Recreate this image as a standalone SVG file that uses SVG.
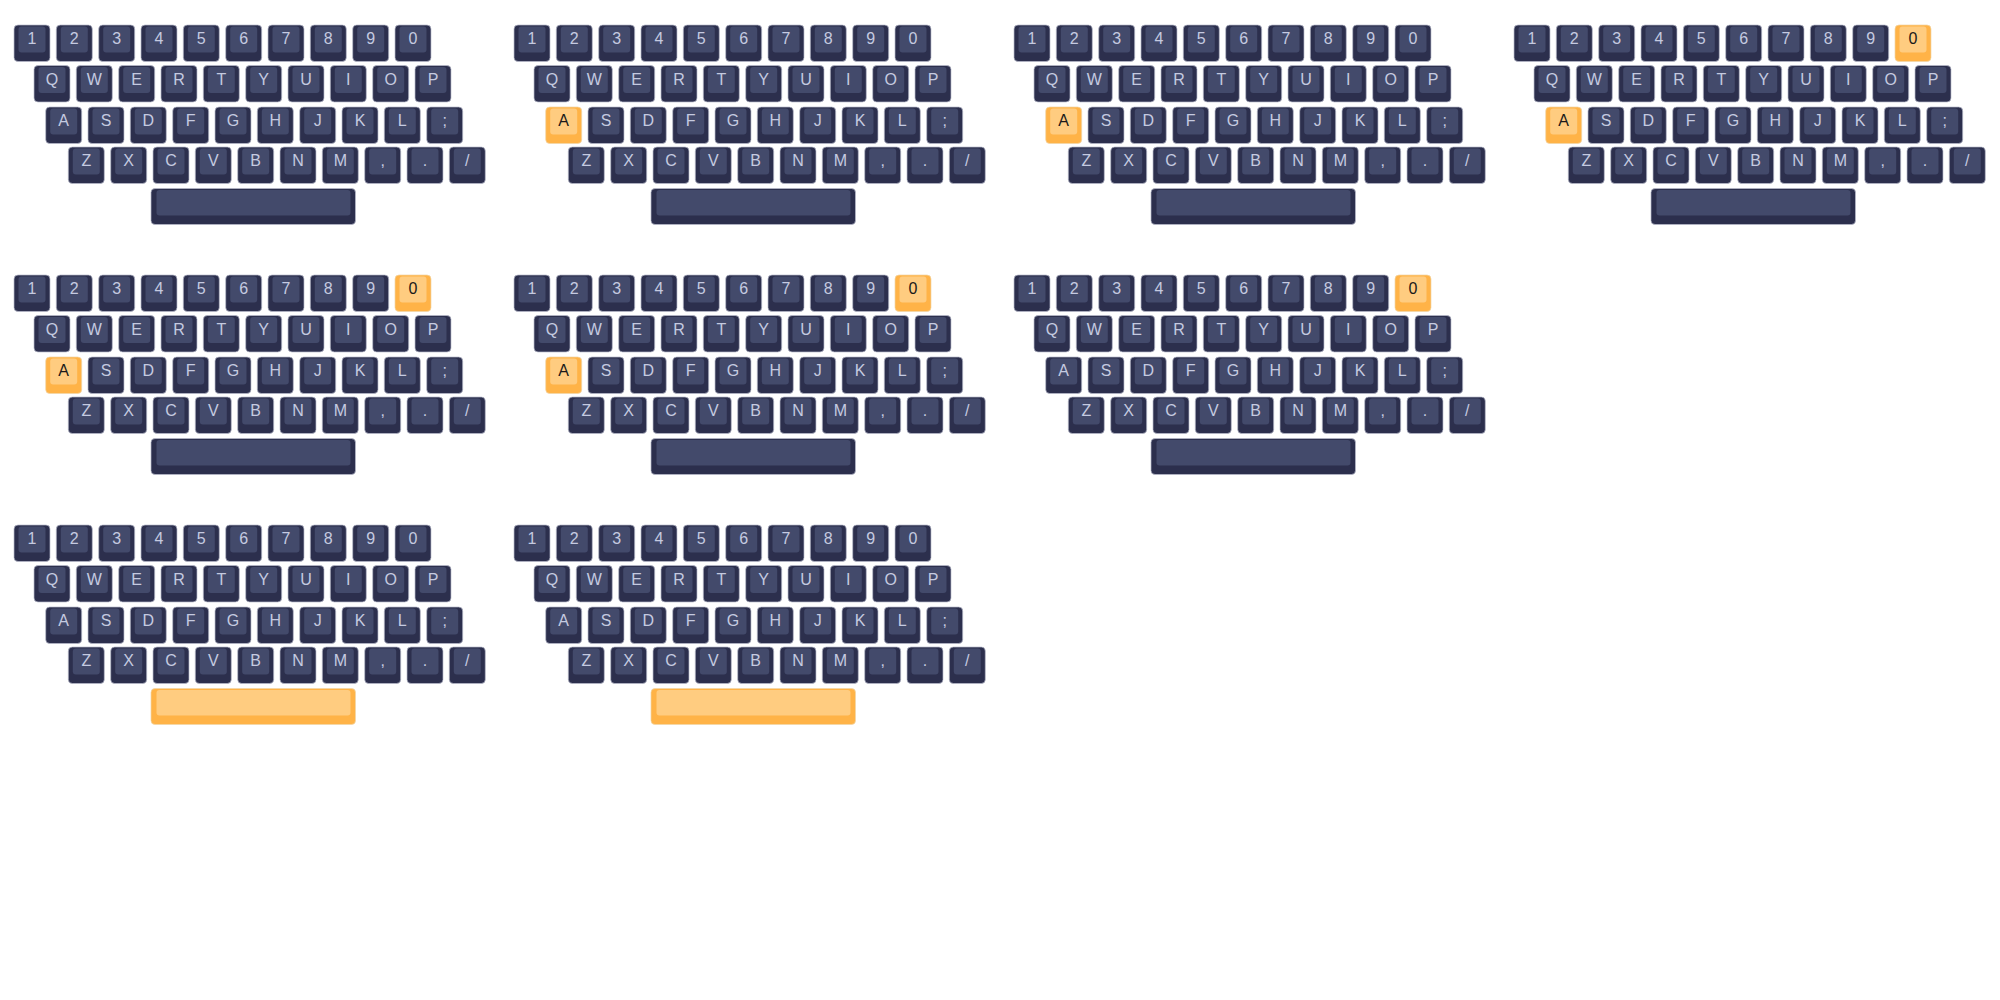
<svg xmlns="http://www.w3.org/2000/svg" xmlns:xlink="http://www.w3.org/1999/xlink" width="2000" height="1000" viewBox="0 0 2000 1000">
<style>
.o{fill:#2c2f4d;stroke:#b9bccb;stroke-width:0.7}
.f{fill:#434a6b}
.ho{fill:#ffb347;stroke:#f0d6a8;stroke-width:0.7}
.hf{fill:#ffcc80}
text{font-family:"Liberation Sans",Arial,sans-serif;font-size:16px;text-anchor:middle;fill:#c5cae0}
text.t{fill:#1a1a1a}
</style>
<defs>
<g id="d"><rect class="o" width="36" height="36.5" rx="4"/><rect class="f" x="4.5" y="1.5" width="27" height="26" rx="3"/></g>
<g id="h"><rect class="ho" width="36" height="36.5" rx="4"/><rect class="hf" x="4.5" y="1.5" width="27" height="26" rx="3"/></g>
<g id="s"><rect class="o" width="204.5" height="36" rx="4"/><rect class="f" x="5.5" y="1.5" width="194" height="25.5" rx="3"/></g>
<g id="sh"><rect class="ho" width="204.5" height="36" rx="4"/><rect class="hf" x="5.5" y="1.5" width="194" height="25.5" rx="3"/></g>
</defs>
<rect width="2000" height="1000" fill="#ffffff"/>
<g id="connectors"></g>

<g id="kb1" transform="translate(0,0)">
<use href="#d" x="14" y="25"/><text x="32" y="44">1</text>
<use href="#d" x="56.3" y="25"/><text x="74.3" y="44">2</text>
<use href="#d" x="98.7" y="25"/><text x="116.7" y="44">3</text>
<use href="#d" x="141" y="25"/><text x="159" y="44">4</text>
<use href="#d" x="183.3" y="25"/><text x="201.3" y="44">5</text>
<use href="#d" x="225.7" y="25"/><text x="243.7" y="44">6</text>
<use href="#d" x="268" y="25"/><text x="286" y="44">7</text>
<use href="#d" x="310.3" y="25"/><text x="328.3" y="44">8</text>
<use href="#d" x="352.7" y="25"/><text x="370.7" y="44">9</text>
<use href="#d" x="395" y="25"/><text x="413" y="44">0</text>
<use href="#d" x="34" y="65.5"/><text x="52" y="84.5">Q</text>
<use href="#d" x="76.3" y="65.5"/><text x="94.3" y="84.5">W</text>
<use href="#d" x="118.7" y="65.5"/><text x="136.7" y="84.5">E</text>
<use href="#d" x="161" y="65.5"/><text x="179" y="84.5">R</text>
<use href="#d" x="203.3" y="65.5"/><text x="221.3" y="84.5">T</text>
<use href="#d" x="245.7" y="65.5"/><text x="263.7" y="84.5">Y</text>
<use href="#d" x="288" y="65.5"/><text x="306" y="84.5">U</text>
<use href="#d" x="330.3" y="65.5"/><text x="348.3" y="84.5">I</text>
<use href="#d" x="372.7" y="65.5"/><text x="390.7" y="84.5">O</text>
<use href="#d" x="415" y="65.5"/><text x="433" y="84.5">P</text>
<use href="#d" x="45.7" y="107"/><text x="63.7" y="126">A</text>
<use href="#d" x="88" y="107"/><text x="106" y="126">S</text>
<use href="#d" x="130.3" y="107"/><text x="148.3" y="126">D</text>
<use href="#d" x="172.7" y="107"/><text x="190.7" y="126">F</text>
<use href="#d" x="215" y="107"/><text x="233" y="126">G</text>
<use href="#d" x="257.3" y="107"/><text x="275.3" y="126">H</text>
<use href="#d" x="299.7" y="107"/><text x="317.7" y="126">J</text>
<use href="#d" x="342" y="107"/><text x="360" y="126">K</text>
<use href="#d" x="384.3" y="107"/><text x="402.3" y="126">L</text>
<use href="#d" x="426.7" y="107"/><text x="444.7" y="126">;</text>
<use href="#d" x="68.3" y="147"/><text x="86.3" y="166">Z</text>
<use href="#d" x="110.7" y="147"/><text x="128.7" y="166">X</text>
<use href="#d" x="153" y="147"/><text x="171" y="166">C</text>
<use href="#d" x="195.3" y="147"/><text x="213.3" y="166">V</text>
<use href="#d" x="237.7" y="147"/><text x="255.7" y="166">B</text>
<use href="#d" x="280" y="147"/><text x="298" y="166">N</text>
<use href="#d" x="322.3" y="147"/><text x="340.3" y="166">M</text>
<use href="#d" x="364.7" y="147"/><text x="382.7" y="166">,</text>
<use href="#d" x="407" y="147"/><text x="425" y="166">.</text>
<use href="#d" x="449.3" y="147"/><text x="467.3" y="166">/</text>
<use href="#s" x="151" y="188.5"/>
</g>

<g id="kb2" transform="translate(500,0)">
<use href="#d" x="14" y="25"/><text x="32" y="44">1</text>
<use href="#d" x="56.3" y="25"/><text x="74.3" y="44">2</text>
<use href="#d" x="98.7" y="25"/><text x="116.7" y="44">3</text>
<use href="#d" x="141" y="25"/><text x="159" y="44">4</text>
<use href="#d" x="183.3" y="25"/><text x="201.3" y="44">5</text>
<use href="#d" x="225.7" y="25"/><text x="243.7" y="44">6</text>
<use href="#d" x="268" y="25"/><text x="286" y="44">7</text>
<use href="#d" x="310.3" y="25"/><text x="328.3" y="44">8</text>
<use href="#d" x="352.7" y="25"/><text x="370.7" y="44">9</text>
<use href="#d" x="395" y="25"/><text x="413" y="44">0</text>
<use href="#d" x="34" y="65.5"/><text x="52" y="84.5">Q</text>
<use href="#d" x="76.3" y="65.5"/><text x="94.3" y="84.5">W</text>
<use href="#d" x="118.7" y="65.5"/><text x="136.7" y="84.5">E</text>
<use href="#d" x="161" y="65.5"/><text x="179" y="84.5">R</text>
<use href="#d" x="203.3" y="65.5"/><text x="221.3" y="84.5">T</text>
<use href="#d" x="245.7" y="65.5"/><text x="263.7" y="84.5">Y</text>
<use href="#d" x="288" y="65.5"/><text x="306" y="84.5">U</text>
<use href="#d" x="330.3" y="65.5"/><text x="348.3" y="84.5">I</text>
<use href="#d" x="372.7" y="65.5"/><text x="390.7" y="84.5">O</text>
<use href="#d" x="415" y="65.5"/><text x="433" y="84.5">P</text>
<use href="#h" x="45.7" y="107"/><text class="t" x="63.7" y="126">A</text>
<use href="#d" x="88" y="107"/><text x="106" y="126">S</text>
<use href="#d" x="130.3" y="107"/><text x="148.3" y="126">D</text>
<use href="#d" x="172.7" y="107"/><text x="190.7" y="126">F</text>
<use href="#d" x="215" y="107"/><text x="233" y="126">G</text>
<use href="#d" x="257.3" y="107"/><text x="275.3" y="126">H</text>
<use href="#d" x="299.7" y="107"/><text x="317.7" y="126">J</text>
<use href="#d" x="342" y="107"/><text x="360" y="126">K</text>
<use href="#d" x="384.3" y="107"/><text x="402.3" y="126">L</text>
<use href="#d" x="426.7" y="107"/><text x="444.7" y="126">;</text>
<use href="#d" x="68.3" y="147"/><text x="86.3" y="166">Z</text>
<use href="#d" x="110.7" y="147"/><text x="128.7" y="166">X</text>
<use href="#d" x="153" y="147"/><text x="171" y="166">C</text>
<use href="#d" x="195.3" y="147"/><text x="213.3" y="166">V</text>
<use href="#d" x="237.7" y="147"/><text x="255.7" y="166">B</text>
<use href="#d" x="280" y="147"/><text x="298" y="166">N</text>
<use href="#d" x="322.3" y="147"/><text x="340.3" y="166">M</text>
<use href="#d" x="364.7" y="147"/><text x="382.7" y="166">,</text>
<use href="#d" x="407" y="147"/><text x="425" y="166">.</text>
<use href="#d" x="449.3" y="147"/><text x="467.3" y="166">/</text>
<use href="#s" x="151" y="188.5"/>
</g>

<g id="kb3" transform="translate(1000,0)">
<use href="#d" x="14" y="25"/><text x="32" y="44">1</text>
<use href="#d" x="56.3" y="25"/><text x="74.3" y="44">2</text>
<use href="#d" x="98.7" y="25"/><text x="116.7" y="44">3</text>
<use href="#d" x="141" y="25"/><text x="159" y="44">4</text>
<use href="#d" x="183.3" y="25"/><text x="201.3" y="44">5</text>
<use href="#d" x="225.7" y="25"/><text x="243.7" y="44">6</text>
<use href="#d" x="268" y="25"/><text x="286" y="44">7</text>
<use href="#d" x="310.3" y="25"/><text x="328.3" y="44">8</text>
<use href="#d" x="352.7" y="25"/><text x="370.7" y="44">9</text>
<use href="#d" x="395" y="25"/><text x="413" y="44">0</text>
<use href="#d" x="34" y="65.5"/><text x="52" y="84.5">Q</text>
<use href="#d" x="76.3" y="65.5"/><text x="94.3" y="84.5">W</text>
<use href="#d" x="118.7" y="65.5"/><text x="136.7" y="84.5">E</text>
<use href="#d" x="161" y="65.5"/><text x="179" y="84.5">R</text>
<use href="#d" x="203.3" y="65.5"/><text x="221.3" y="84.5">T</text>
<use href="#d" x="245.7" y="65.5"/><text x="263.7" y="84.5">Y</text>
<use href="#d" x="288" y="65.5"/><text x="306" y="84.5">U</text>
<use href="#d" x="330.3" y="65.5"/><text x="348.3" y="84.5">I</text>
<use href="#d" x="372.7" y="65.5"/><text x="390.7" y="84.5">O</text>
<use href="#d" x="415" y="65.5"/><text x="433" y="84.5">P</text>
<use href="#h" x="45.7" y="107"/><text class="t" x="63.7" y="126">A</text>
<use href="#d" x="88" y="107"/><text x="106" y="126">S</text>
<use href="#d" x="130.3" y="107"/><text x="148.3" y="126">D</text>
<use href="#d" x="172.7" y="107"/><text x="190.7" y="126">F</text>
<use href="#d" x="215" y="107"/><text x="233" y="126">G</text>
<use href="#d" x="257.3" y="107"/><text x="275.3" y="126">H</text>
<use href="#d" x="299.7" y="107"/><text x="317.7" y="126">J</text>
<use href="#d" x="342" y="107"/><text x="360" y="126">K</text>
<use href="#d" x="384.3" y="107"/><text x="402.3" y="126">L</text>
<use href="#d" x="426.7" y="107"/><text x="444.7" y="126">;</text>
<use href="#d" x="68.3" y="147"/><text x="86.3" y="166">Z</text>
<use href="#d" x="110.7" y="147"/><text x="128.7" y="166">X</text>
<use href="#d" x="153" y="147"/><text x="171" y="166">C</text>
<use href="#d" x="195.3" y="147"/><text x="213.3" y="166">V</text>
<use href="#d" x="237.7" y="147"/><text x="255.7" y="166">B</text>
<use href="#d" x="280" y="147"/><text x="298" y="166">N</text>
<use href="#d" x="322.3" y="147"/><text x="340.3" y="166">M</text>
<use href="#d" x="364.7" y="147"/><text x="382.7" y="166">,</text>
<use href="#d" x="407" y="147"/><text x="425" y="166">.</text>
<use href="#d" x="449.3" y="147"/><text x="467.3" y="166">/</text>
<use href="#s" x="151" y="188.5"/>
</g>

<g id="kb4" transform="translate(1500,0)">
<use href="#d" x="14" y="25"/><text x="32" y="44">1</text>
<use href="#d" x="56.3" y="25"/><text x="74.3" y="44">2</text>
<use href="#d" x="98.7" y="25"/><text x="116.7" y="44">3</text>
<use href="#d" x="141" y="25"/><text x="159" y="44">4</text>
<use href="#d" x="183.3" y="25"/><text x="201.3" y="44">5</text>
<use href="#d" x="225.7" y="25"/><text x="243.7" y="44">6</text>
<use href="#d" x="268" y="25"/><text x="286" y="44">7</text>
<use href="#d" x="310.3" y="25"/><text x="328.3" y="44">8</text>
<use href="#d" x="352.7" y="25"/><text x="370.7" y="44">9</text>
<use href="#h" x="395" y="25"/><text class="t" x="413" y="44">0</text>
<use href="#d" x="34" y="65.5"/><text x="52" y="84.5">Q</text>
<use href="#d" x="76.3" y="65.5"/><text x="94.3" y="84.5">W</text>
<use href="#d" x="118.7" y="65.5"/><text x="136.7" y="84.5">E</text>
<use href="#d" x="161" y="65.5"/><text x="179" y="84.5">R</text>
<use href="#d" x="203.3" y="65.5"/><text x="221.3" y="84.5">T</text>
<use href="#d" x="245.7" y="65.5"/><text x="263.7" y="84.5">Y</text>
<use href="#d" x="288" y="65.5"/><text x="306" y="84.5">U</text>
<use href="#d" x="330.3" y="65.5"/><text x="348.3" y="84.5">I</text>
<use href="#d" x="372.7" y="65.5"/><text x="390.7" y="84.5">O</text>
<use href="#d" x="415" y="65.5"/><text x="433" y="84.5">P</text>
<use href="#h" x="45.7" y="107"/><text class="t" x="63.7" y="126">A</text>
<use href="#d" x="88" y="107"/><text x="106" y="126">S</text>
<use href="#d" x="130.3" y="107"/><text x="148.3" y="126">D</text>
<use href="#d" x="172.7" y="107"/><text x="190.7" y="126">F</text>
<use href="#d" x="215" y="107"/><text x="233" y="126">G</text>
<use href="#d" x="257.3" y="107"/><text x="275.3" y="126">H</text>
<use href="#d" x="299.7" y="107"/><text x="317.7" y="126">J</text>
<use href="#d" x="342" y="107"/><text x="360" y="126">K</text>
<use href="#d" x="384.3" y="107"/><text x="402.3" y="126">L</text>
<use href="#d" x="426.7" y="107"/><text x="444.7" y="126">;</text>
<use href="#d" x="68.3" y="147"/><text x="86.3" y="166">Z</text>
<use href="#d" x="110.7" y="147"/><text x="128.7" y="166">X</text>
<use href="#d" x="153" y="147"/><text x="171" y="166">C</text>
<use href="#d" x="195.3" y="147"/><text x="213.3" y="166">V</text>
<use href="#d" x="237.7" y="147"/><text x="255.7" y="166">B</text>
<use href="#d" x="280" y="147"/><text x="298" y="166">N</text>
<use href="#d" x="322.3" y="147"/><text x="340.3" y="166">M</text>
<use href="#d" x="364.7" y="147"/><text x="382.7" y="166">,</text>
<use href="#d" x="407" y="147"/><text x="425" y="166">.</text>
<use href="#d" x="449.3" y="147"/><text x="467.3" y="166">/</text>
<use href="#s" x="151" y="188.5"/>
</g>

<g id="kb5" transform="translate(0,250)">
<use href="#d" x="14" y="25"/><text x="32" y="44">1</text>
<use href="#d" x="56.3" y="25"/><text x="74.3" y="44">2</text>
<use href="#d" x="98.7" y="25"/><text x="116.7" y="44">3</text>
<use href="#d" x="141" y="25"/><text x="159" y="44">4</text>
<use href="#d" x="183.3" y="25"/><text x="201.3" y="44">5</text>
<use href="#d" x="225.7" y="25"/><text x="243.7" y="44">6</text>
<use href="#d" x="268" y="25"/><text x="286" y="44">7</text>
<use href="#d" x="310.3" y="25"/><text x="328.3" y="44">8</text>
<use href="#d" x="352.7" y="25"/><text x="370.7" y="44">9</text>
<use href="#h" x="395" y="25"/><text class="t" x="413" y="44">0</text>
<use href="#d" x="34" y="65.5"/><text x="52" y="84.5">Q</text>
<use href="#d" x="76.3" y="65.5"/><text x="94.3" y="84.5">W</text>
<use href="#d" x="118.7" y="65.5"/><text x="136.7" y="84.5">E</text>
<use href="#d" x="161" y="65.5"/><text x="179" y="84.5">R</text>
<use href="#d" x="203.3" y="65.5"/><text x="221.3" y="84.5">T</text>
<use href="#d" x="245.7" y="65.5"/><text x="263.7" y="84.5">Y</text>
<use href="#d" x="288" y="65.5"/><text x="306" y="84.5">U</text>
<use href="#d" x="330.3" y="65.5"/><text x="348.3" y="84.5">I</text>
<use href="#d" x="372.7" y="65.5"/><text x="390.7" y="84.5">O</text>
<use href="#d" x="415" y="65.5"/><text x="433" y="84.5">P</text>
<use href="#h" x="45.7" y="107"/><text class="t" x="63.7" y="126">A</text>
<use href="#d" x="88" y="107"/><text x="106" y="126">S</text>
<use href="#d" x="130.3" y="107"/><text x="148.3" y="126">D</text>
<use href="#d" x="172.7" y="107"/><text x="190.7" y="126">F</text>
<use href="#d" x="215" y="107"/><text x="233" y="126">G</text>
<use href="#d" x="257.3" y="107"/><text x="275.3" y="126">H</text>
<use href="#d" x="299.7" y="107"/><text x="317.7" y="126">J</text>
<use href="#d" x="342" y="107"/><text x="360" y="126">K</text>
<use href="#d" x="384.3" y="107"/><text x="402.3" y="126">L</text>
<use href="#d" x="426.7" y="107"/><text x="444.7" y="126">;</text>
<use href="#d" x="68.3" y="147"/><text x="86.3" y="166">Z</text>
<use href="#d" x="110.7" y="147"/><text x="128.7" y="166">X</text>
<use href="#d" x="153" y="147"/><text x="171" y="166">C</text>
<use href="#d" x="195.3" y="147"/><text x="213.3" y="166">V</text>
<use href="#d" x="237.7" y="147"/><text x="255.7" y="166">B</text>
<use href="#d" x="280" y="147"/><text x="298" y="166">N</text>
<use href="#d" x="322.3" y="147"/><text x="340.3" y="166">M</text>
<use href="#d" x="364.7" y="147"/><text x="382.7" y="166">,</text>
<use href="#d" x="407" y="147"/><text x="425" y="166">.</text>
<use href="#d" x="449.3" y="147"/><text x="467.3" y="166">/</text>
<use href="#s" x="151" y="188.5"/>
</g>

<g id="kb6" transform="translate(500,250)">
<use href="#d" x="14" y="25"/><text x="32" y="44">1</text>
<use href="#d" x="56.3" y="25"/><text x="74.3" y="44">2</text>
<use href="#d" x="98.7" y="25"/><text x="116.7" y="44">3</text>
<use href="#d" x="141" y="25"/><text x="159" y="44">4</text>
<use href="#d" x="183.3" y="25"/><text x="201.3" y="44">5</text>
<use href="#d" x="225.7" y="25"/><text x="243.7" y="44">6</text>
<use href="#d" x="268" y="25"/><text x="286" y="44">7</text>
<use href="#d" x="310.3" y="25"/><text x="328.3" y="44">8</text>
<use href="#d" x="352.7" y="25"/><text x="370.7" y="44">9</text>
<use href="#h" x="395" y="25"/><text class="t" x="413" y="44">0</text>
<use href="#d" x="34" y="65.5"/><text x="52" y="84.5">Q</text>
<use href="#d" x="76.3" y="65.5"/><text x="94.3" y="84.5">W</text>
<use href="#d" x="118.7" y="65.5"/><text x="136.7" y="84.5">E</text>
<use href="#d" x="161" y="65.5"/><text x="179" y="84.5">R</text>
<use href="#d" x="203.3" y="65.5"/><text x="221.3" y="84.5">T</text>
<use href="#d" x="245.7" y="65.5"/><text x="263.7" y="84.5">Y</text>
<use href="#d" x="288" y="65.5"/><text x="306" y="84.5">U</text>
<use href="#d" x="330.3" y="65.5"/><text x="348.3" y="84.5">I</text>
<use href="#d" x="372.7" y="65.5"/><text x="390.7" y="84.5">O</text>
<use href="#d" x="415" y="65.5"/><text x="433" y="84.5">P</text>
<use href="#h" x="45.7" y="107"/><text class="t" x="63.7" y="126">A</text>
<use href="#d" x="88" y="107"/><text x="106" y="126">S</text>
<use href="#d" x="130.3" y="107"/><text x="148.3" y="126">D</text>
<use href="#d" x="172.7" y="107"/><text x="190.7" y="126">F</text>
<use href="#d" x="215" y="107"/><text x="233" y="126">G</text>
<use href="#d" x="257.3" y="107"/><text x="275.3" y="126">H</text>
<use href="#d" x="299.7" y="107"/><text x="317.7" y="126">J</text>
<use href="#d" x="342" y="107"/><text x="360" y="126">K</text>
<use href="#d" x="384.3" y="107"/><text x="402.3" y="126">L</text>
<use href="#d" x="426.7" y="107"/><text x="444.7" y="126">;</text>
<use href="#d" x="68.3" y="147"/><text x="86.3" y="166">Z</text>
<use href="#d" x="110.7" y="147"/><text x="128.7" y="166">X</text>
<use href="#d" x="153" y="147"/><text x="171" y="166">C</text>
<use href="#d" x="195.3" y="147"/><text x="213.3" y="166">V</text>
<use href="#d" x="237.7" y="147"/><text x="255.7" y="166">B</text>
<use href="#d" x="280" y="147"/><text x="298" y="166">N</text>
<use href="#d" x="322.3" y="147"/><text x="340.3" y="166">M</text>
<use href="#d" x="364.7" y="147"/><text x="382.7" y="166">,</text>
<use href="#d" x="407" y="147"/><text x="425" y="166">.</text>
<use href="#d" x="449.3" y="147"/><text x="467.3" y="166">/</text>
<use href="#s" x="151" y="188.5"/>
</g>

<g id="kb7" transform="translate(1000,250)">
<use href="#d" x="14" y="25"/><text x="32" y="44">1</text>
<use href="#d" x="56.3" y="25"/><text x="74.3" y="44">2</text>
<use href="#d" x="98.7" y="25"/><text x="116.7" y="44">3</text>
<use href="#d" x="141" y="25"/><text x="159" y="44">4</text>
<use href="#d" x="183.3" y="25"/><text x="201.3" y="44">5</text>
<use href="#d" x="225.7" y="25"/><text x="243.7" y="44">6</text>
<use href="#d" x="268" y="25"/><text x="286" y="44">7</text>
<use href="#d" x="310.3" y="25"/><text x="328.3" y="44">8</text>
<use href="#d" x="352.7" y="25"/><text x="370.7" y="44">9</text>
<use href="#h" x="395" y="25"/><text class="t" x="413" y="44">0</text>
<use href="#d" x="34" y="65.5"/><text x="52" y="84.5">Q</text>
<use href="#d" x="76.3" y="65.5"/><text x="94.3" y="84.5">W</text>
<use href="#d" x="118.7" y="65.5"/><text x="136.7" y="84.5">E</text>
<use href="#d" x="161" y="65.5"/><text x="179" y="84.5">R</text>
<use href="#d" x="203.3" y="65.5"/><text x="221.3" y="84.5">T</text>
<use href="#d" x="245.7" y="65.5"/><text x="263.7" y="84.5">Y</text>
<use href="#d" x="288" y="65.5"/><text x="306" y="84.5">U</text>
<use href="#d" x="330.3" y="65.5"/><text x="348.3" y="84.5">I</text>
<use href="#d" x="372.7" y="65.5"/><text x="390.7" y="84.5">O</text>
<use href="#d" x="415" y="65.5"/><text x="433" y="84.5">P</text>
<use href="#d" x="45.7" y="107"/><text x="63.7" y="126">A</text>
<use href="#d" x="88" y="107"/><text x="106" y="126">S</text>
<use href="#d" x="130.3" y="107"/><text x="148.3" y="126">D</text>
<use href="#d" x="172.7" y="107"/><text x="190.7" y="126">F</text>
<use href="#d" x="215" y="107"/><text x="233" y="126">G</text>
<use href="#d" x="257.3" y="107"/><text x="275.3" y="126">H</text>
<use href="#d" x="299.7" y="107"/><text x="317.7" y="126">J</text>
<use href="#d" x="342" y="107"/><text x="360" y="126">K</text>
<use href="#d" x="384.3" y="107"/><text x="402.3" y="126">L</text>
<use href="#d" x="426.7" y="107"/><text x="444.7" y="126">;</text>
<use href="#d" x="68.3" y="147"/><text x="86.3" y="166">Z</text>
<use href="#d" x="110.7" y="147"/><text x="128.7" y="166">X</text>
<use href="#d" x="153" y="147"/><text x="171" y="166">C</text>
<use href="#d" x="195.3" y="147"/><text x="213.3" y="166">V</text>
<use href="#d" x="237.7" y="147"/><text x="255.7" y="166">B</text>
<use href="#d" x="280" y="147"/><text x="298" y="166">N</text>
<use href="#d" x="322.3" y="147"/><text x="340.3" y="166">M</text>
<use href="#d" x="364.7" y="147"/><text x="382.7" y="166">,</text>
<use href="#d" x="407" y="147"/><text x="425" y="166">.</text>
<use href="#d" x="449.3" y="147"/><text x="467.3" y="166">/</text>
<use href="#s" x="151" y="188.5"/>
</g>

<g id="kb8" transform="translate(0,500)">
<use href="#d" x="14" y="25"/><text x="32" y="44">1</text>
<use href="#d" x="56.3" y="25"/><text x="74.3" y="44">2</text>
<use href="#d" x="98.7" y="25"/><text x="116.7" y="44">3</text>
<use href="#d" x="141" y="25"/><text x="159" y="44">4</text>
<use href="#d" x="183.3" y="25"/><text x="201.3" y="44">5</text>
<use href="#d" x="225.7" y="25"/><text x="243.7" y="44">6</text>
<use href="#d" x="268" y="25"/><text x="286" y="44">7</text>
<use href="#d" x="310.3" y="25"/><text x="328.3" y="44">8</text>
<use href="#d" x="352.7" y="25"/><text x="370.7" y="44">9</text>
<use href="#d" x="395" y="25"/><text x="413" y="44">0</text>
<use href="#d" x="34" y="65.5"/><text x="52" y="84.5">Q</text>
<use href="#d" x="76.3" y="65.5"/><text x="94.3" y="84.5">W</text>
<use href="#d" x="118.7" y="65.5"/><text x="136.7" y="84.5">E</text>
<use href="#d" x="161" y="65.5"/><text x="179" y="84.5">R</text>
<use href="#d" x="203.3" y="65.5"/><text x="221.3" y="84.5">T</text>
<use href="#d" x="245.7" y="65.5"/><text x="263.7" y="84.5">Y</text>
<use href="#d" x="288" y="65.5"/><text x="306" y="84.5">U</text>
<use href="#d" x="330.3" y="65.5"/><text x="348.3" y="84.5">I</text>
<use href="#d" x="372.7" y="65.5"/><text x="390.7" y="84.5">O</text>
<use href="#d" x="415" y="65.5"/><text x="433" y="84.5">P</text>
<use href="#d" x="45.7" y="107"/><text x="63.7" y="126">A</text>
<use href="#d" x="88" y="107"/><text x="106" y="126">S</text>
<use href="#d" x="130.3" y="107"/><text x="148.3" y="126">D</text>
<use href="#d" x="172.7" y="107"/><text x="190.7" y="126">F</text>
<use href="#d" x="215" y="107"/><text x="233" y="126">G</text>
<use href="#d" x="257.3" y="107"/><text x="275.3" y="126">H</text>
<use href="#d" x="299.7" y="107"/><text x="317.7" y="126">J</text>
<use href="#d" x="342" y="107"/><text x="360" y="126">K</text>
<use href="#d" x="384.3" y="107"/><text x="402.3" y="126">L</text>
<use href="#d" x="426.7" y="107"/><text x="444.7" y="126">;</text>
<use href="#d" x="68.3" y="147"/><text x="86.3" y="166">Z</text>
<use href="#d" x="110.7" y="147"/><text x="128.7" y="166">X</text>
<use href="#d" x="153" y="147"/><text x="171" y="166">C</text>
<use href="#d" x="195.3" y="147"/><text x="213.3" y="166">V</text>
<use href="#d" x="237.7" y="147"/><text x="255.7" y="166">B</text>
<use href="#d" x="280" y="147"/><text x="298" y="166">N</text>
<use href="#d" x="322.3" y="147"/><text x="340.3" y="166">M</text>
<use href="#d" x="364.7" y="147"/><text x="382.7" y="166">,</text>
<use href="#d" x="407" y="147"/><text x="425" y="166">.</text>
<use href="#d" x="449.3" y="147"/><text x="467.3" y="166">/</text>
<use href="#sh" x="151" y="188.5"/>
</g>

<g id="kb9" transform="translate(500,500)">
<use href="#d" x="14" y="25"/><text x="32" y="44">1</text>
<use href="#d" x="56.3" y="25"/><text x="74.3" y="44">2</text>
<use href="#d" x="98.7" y="25"/><text x="116.7" y="44">3</text>
<use href="#d" x="141" y="25"/><text x="159" y="44">4</text>
<use href="#d" x="183.3" y="25"/><text x="201.3" y="44">5</text>
<use href="#d" x="225.7" y="25"/><text x="243.7" y="44">6</text>
<use href="#d" x="268" y="25"/><text x="286" y="44">7</text>
<use href="#d" x="310.3" y="25"/><text x="328.3" y="44">8</text>
<use href="#d" x="352.7" y="25"/><text x="370.7" y="44">9</text>
<use href="#d" x="395" y="25"/><text x="413" y="44">0</text>
<use href="#d" x="34" y="65.5"/><text x="52" y="84.5">Q</text>
<use href="#d" x="76.3" y="65.5"/><text x="94.3" y="84.5">W</text>
<use href="#d" x="118.7" y="65.5"/><text x="136.7" y="84.5">E</text>
<use href="#d" x="161" y="65.5"/><text x="179" y="84.5">R</text>
<use href="#d" x="203.3" y="65.5"/><text x="221.3" y="84.5">T</text>
<use href="#d" x="245.7" y="65.5"/><text x="263.7" y="84.5">Y</text>
<use href="#d" x="288" y="65.5"/><text x="306" y="84.5">U</text>
<use href="#d" x="330.3" y="65.5"/><text x="348.3" y="84.5">I</text>
<use href="#d" x="372.7" y="65.5"/><text x="390.7" y="84.5">O</text>
<use href="#d" x="415" y="65.5"/><text x="433" y="84.5">P</text>
<use href="#d" x="45.7" y="107"/><text x="63.7" y="126">A</text>
<use href="#d" x="88" y="107"/><text x="106" y="126">S</text>
<use href="#d" x="130.3" y="107"/><text x="148.3" y="126">D</text>
<use href="#d" x="172.7" y="107"/><text x="190.7" y="126">F</text>
<use href="#d" x="215" y="107"/><text x="233" y="126">G</text>
<use href="#d" x="257.3" y="107"/><text x="275.3" y="126">H</text>
<use href="#d" x="299.7" y="107"/><text x="317.7" y="126">J</text>
<use href="#d" x="342" y="107"/><text x="360" y="126">K</text>
<use href="#d" x="384.3" y="107"/><text x="402.3" y="126">L</text>
<use href="#d" x="426.7" y="107"/><text x="444.7" y="126">;</text>
<use href="#d" x="68.3" y="147"/><text x="86.3" y="166">Z</text>
<use href="#d" x="110.7" y="147"/><text x="128.7" y="166">X</text>
<use href="#d" x="153" y="147"/><text x="171" y="166">C</text>
<use href="#d" x="195.3" y="147"/><text x="213.3" y="166">V</text>
<use href="#d" x="237.7" y="147"/><text x="255.7" y="166">B</text>
<use href="#d" x="280" y="147"/><text x="298" y="166">N</text>
<use href="#d" x="322.3" y="147"/><text x="340.3" y="166">M</text>
<use href="#d" x="364.7" y="147"/><text x="382.7" y="166">,</text>
<use href="#d" x="407" y="147"/><text x="425" y="166">.</text>
<use href="#d" x="449.3" y="147"/><text x="467.3" y="166">/</text>
<use href="#sh" x="151" y="188.5"/>
</g>
</svg>
